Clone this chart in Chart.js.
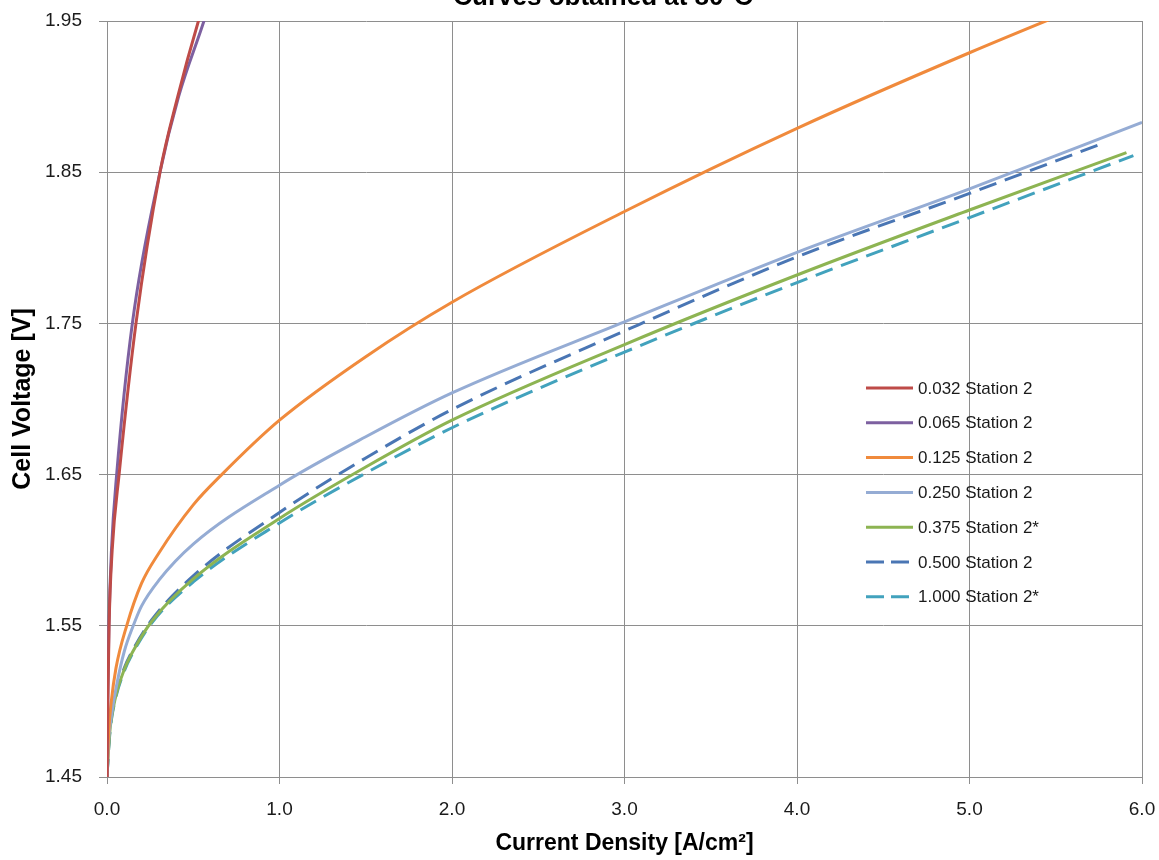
<!DOCTYPE html>
<html lang="en">
<head>
    <meta charset="UTF-8">
    <title>Polarization Curves</title>
    <style>
        body {
            margin: 0;
            background: #fff;
        }
        #wrap {
            width: 1159px;
            height: 860px;
        }
    </style>
</head>
<body>
    <div id="wrap"><canvas id="curveChart" width="1159" height="860"></canvas></div>
    <script src="https://cdn.jsdelivr.net/npm/chart.js"></script>
    <script>
        // series names (flow setting) and current density / voltage
        const seriesLabels = ['0.032 Station 2', '0.065 Station 2', '0.125 Station 2', '0.250 Station 2',
            '0.375 Station 2*', '0.500 Station 2', '1.000 Station 2*'];

        const x032 = [0, 0.005, 0.012, 0.03, 0.07, 0.168, 0.307, 0.41, 0.53, 0.6];
        const v032 = [1.45, 1.50, 1.55, 1.60, 1.65, 1.75, 1.85, 1.90, 1.95, 1.975];

        const x065 = [0, 0.004, 0.011, 0.026, 0.056, 0.147, 0.307, 0.415, 0.562, 0.63];
        const v065 = [1.45, 1.50, 1.55, 1.60, 1.65, 1.75, 1.85, 1.90, 1.95, 1.975];

        const x125 = [0, 0.01, 0.025, 0.052, 0.114, 0.2, 0.3, 0.5, 0.665, 1.0, 1.5, 2.0, 3.0, 4.0, 5.0, 6.0];
        const v125 = [1.45, 1.48, 1.50, 1.522, 1.55, 1.578, 1.598, 1.630, 1.65, 1.686, 1.728, 1.764, 1.824, 1.879, 1.929, 1.976];

        const x250 = [0, 0.01, 0.025, 0.058, 0.1, 0.152, 0.2, 0.3, 0.5, 1.0, 1.5, 2.0, 3.0, 4.0, 5.0, 6.0];
        const v250 = [1.45, 1.475, 1.49, 1.512, 1.533, 1.55, 1.563, 1.580, 1.604, 1.643, 1.675, 1.704, 1.751, 1.797, 1.839, 1.883];

        const x375 = [0, 0.01, 0.02, 0.05, 0.1, 0.15, 0.26, 0.5, 1.0, 1.5, 2.0, 3.0, 4.0, 5.0, 5.91];
        const v375 = [1.45, 1.47, 1.484, 1.503, 1.521, 1.533, 1.553, 1.581, 1.621, 1.655, 1.686, 1.736, 1.782, 1.825, 1.863];

        const x500 = [0, 0.01, 0.02, 0.05, 0.1, 0.15, 0.26, 0.5, 1.0, 1.5, 2.0, 3.0, 4.0, 5.0, 5.77];
        const v500 = [1.45, 1.471, 1.485, 1.504, 1.522, 1.534, 1.554, 1.583, 1.625, 1.661, 1.693, 1.745, 1.794, 1.836, 1.869];

        const x1000 = [0, 0.01, 0.02, 0.05, 0.1, 0.15, 0.26, 0.5, 1.0, 1.5, 2.0, 3.0, 4.0, 5.0, 5.95];
        const v1000 = [1.45, 1.469, 1.483, 1.502, 1.520, 1.532, 1.552, 1.579, 1.618, 1.651, 1.681, 1.731, 1.777, 1.820, 1.861];

        const xTicks = [0, 1, 2, 3, 4, 5, 6];
        const yTicks = [1.45, 1.55, 1.65, 1.75, 1.85, 1.95];

        const fontFamily = "'Liberation Sans', Arial, sans-serif";
        const gridColor = '#8e8e8e';

        function toPoints(xs, ys) {
            return xs.map((x, i) => ({ x: x, y: ys[i] }));
        }

        function makeSet(label, xs, ys, color, dash) {
            return {
                label: label,
                data: toPoints(xs, ys),
                borderColor: color,
                backgroundColor: color,
                borderWidth: 3,
                borderDash: dash || [],
                showLine: true,
                pointRadius: 0,
                pointHoverRadius: 0,
                cubicInterpolationMode: 'monotone',
                fill: false
            };
        }

        const datasets = [
            makeSet(seriesLabels[0], x032, v032, '#be4b48'),
            makeSet(seriesLabels[1], x065, v065, '#7d60a0'),
            makeSet(seriesLabels[2], x125, v125, '#f08a3c'),
            makeSet(seriesLabels[3], x250, v250, '#95acd4'),
            makeSet(seriesLabels[4], x375, v375, '#8db452'),
            makeSet(seriesLabels[5], x500, v500, '#4a76b4', [18, 9]),
            makeSet(seriesLabels[6], x1000, v1000, '#42a2bd', [18, 9])
        ];

        // legend sits inside the plot, on the right, like the original
        const insideLegend = {
            id: 'insideLegend',
            afterDraw(chart) {
                const ctx = chart.ctx;
                ctx.save();
                ctx.font = '17px ' + fontFamily;
                ctx.textBaseline = 'middle';
                ctx.textAlign = 'left';
                chart.data.datasets.forEach((ds, i) => {
                    const y = 388 + i * 34.8;
                    ctx.strokeStyle = ds.borderColor;
                    ctx.lineWidth = 3;
                    ctx.setLineDash(ds.borderDash.length ? [18, 7] : []);
                    ctx.beginPath();
                    ctx.moveTo(866, y);
                    ctx.lineTo(913, y);
                    ctx.stroke();
                    ctx.setLineDash([]);
                    ctx.fillStyle = '#1a1a1a';
                    ctx.fillText(ds.label, 918, y + 1);
                });
                ctx.restore();
            }
        };

        // title is cut off at the top edge in the source image
        const topTitle = {
            id: 'topTitle',
            afterDraw(chart) {
                const ctx = chart.ctx;
                ctx.save();
                ctx.font = 'bold 26px ' + fontFamily;
                ctx.textAlign = 'center';
                ctx.textBaseline = 'alphabetic';
                ctx.fillStyle = '#000';
                ctx.fillText('Curves obtained at 80°C', 603, 5);
                ctx.restore();
            }
        };

        const ctx = document.getElementById('curveChart').getContext('2d');
        const chart = new Chart(ctx, {
            type: 'scatter',
            data: { datasets: datasets },
            plugins: [insideLegend, topTitle],
            options: {
                responsive: false,
                animation: false,
                layout: {
                    padding: { top: 21, right: 17, left: 0, bottom: 0 }
                },
                plugins: {
                    legend: { display: false },
                    tooltip: { enabled: false }
                },
                scales: {
                    x: {
                        type: 'linear',
                        min: xTicks[0],
                        max: xTicks[xTicks.length - 1],
                        afterFit: (scale) => {
                            scale.height = 83;
                            scale.paddingLeft = 0;
                            scale.paddingRight = 0;
                        },
                        afterBuildTicks: (scale) => { scale.ticks = xTicks.map(v => ({ value: v })); },
                        ticks: {
                            padding: 14,
                            color: '#1a1a1a',
                            font: { family: fontFamily, size: 19 },
                            callback: (v) => Number(v).toFixed(1)
                        },
                        grid: {
                            color: gridColor,
                            lineWidth: 1,
                            tickLength: 7
                        },
                        border: { color: gridColor },
                        title: {
                            display: true,
                            text: 'Current Density [A/cm²]',
                            color: '#000',
                            font: { family: fontFamily, size: 23, weight: 'bold' },
                            padding: { top: 0, bottom: 3 }
                        }
                    },
                    y: {
                        type: 'linear',
                        min: yTicks[0],
                        max: yTicks[yTicks.length - 1],
                        afterFit: (scale) => {
                            scale.width = 107;
                            scale.paddingTop = 0;
                            scale.paddingBottom = 0;
                        },
                        afterBuildTicks: (scale) => { scale.ticks = yTicks.map(v => ({ value: v })); },
                        ticks: {
                            padding: 17,
                            color: '#1a1a1a',
                            font: { family: fontFamily, size: 19 },
                            callback: (v) => Number(v).toFixed(2)
                        },
                        grid: {
                            color: gridColor,
                            lineWidth: 1,
                            tickLength: 8
                        },
                        border: { color: gridColor },
                        title: {
                            display: true,
                            text: 'Cell Voltage [V]',
                            color: '#000',
                            font: { family: fontFamily, size: 25, weight: 'bold' },
                            padding: { top: 8, bottom: 0 }
                        }
                    }
                }
            }
        });
    </script>
</body>
</html>
